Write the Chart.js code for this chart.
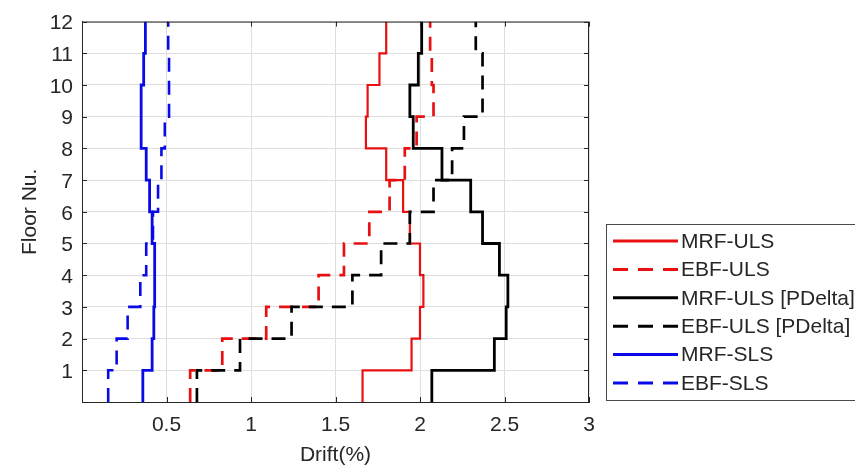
<!DOCTYPE html>
<html lang="en">
<head>
  <meta charset="UTF-8">
  <title>Storey drift</title>
  <script src="https://cdn.jsdelivr.net/npm/chart.js"></script>
  <style>
    html,body{margin:0;padding:0;background:#ffffff;overflow:hidden;}
    #wrap{width:855px;height:469px;}
  </style>
</head>
<body>
  <div id="wrap"><canvas id="driftChart" width="855" height="469"></canvas></div>
  <script>
    // floor numbers and drift (%) per storey
    const floors = [1, 2, 3, 4, 5, 6, 7, 8, 9, 10, 11, 12];
    const mrfUls   = [1.66, 1.95, 2.00, 2.02, 2.00, 1.94, 1.90, 1.80, 1.68, 1.69, 1.76, 1.80];
    const ebfUls   = [0.64, 0.83, 1.09, 1.40, 1.55, 1.70, 1.82, 1.91, 1.98, 2.08, 2.07, 2.06];
    const mrfUlsPD = [2.07, 2.44, 2.51, 2.52, 2.47, 2.37, 2.30, 2.13, 1.96, 1.94, 1.99, 2.01];
    const ebfUlsPD = [0.68, 0.935, 1.24, 1.60, 1.77, 1.94, 2.08, 2.19, 2.26, 2.37, 2.37, 2.33];
    const mrfSls   = [0.36, 0.415, 0.425, 0.43, 0.43, 0.415, 0.40, 0.38, 0.35, 0.35, 0.365, 0.375];
    const ebfSls   = [0.155, 0.205, 0.27, 0.345, 0.38, 0.42, 0.45, 0.47, 0.49, 0.515, 0.515, 0.51];
    const seriesLabels = ['MRF-ULS', 'EBF-ULS', 'MRF-ULS [PDelta]', 'EBF-ULS [PDelta]', 'MRF-SLS', 'EBF-SLS'];

    const RED = '#e81010', BLACK = '#000000', BLUE = '#0a0ae6';
    const DASH = [14, 9];
    const FONT = "'Liberation Sans', Arial, sans-serif";
    const TXT = '#262626';

    // stairs: each storey is a vertical run from floor-1 up to floor
    function stairs(vals){
      const pts = vals.map(function(v, i){ return {x: v, y: floors[i] - 1}; });
      pts.push({x: vals[vals.length - 1], y: floors[floors.length - 1]});
      return pts;
    }

    const series = [
      {data: mrfUls,   color: RED,   dash: [],   width: 2.2},
      {data: ebfUls,   color: RED,   dash: DASH, width: 2.7},
      {data: mrfUlsPD, color: BLACK, dash: [],   width: 2.8},
      {data: ebfUlsPD, color: BLACK, dash: DASH, width: 2.7},
      {data: mrfSls,   color: BLUE,  dash: [],   width: 2.8},
      {data: ebfSls,   color: BLUE,  dash: DASH, width: 2.6}
    ];

    const datasets = series.map(function(s, i){
      return {
        label: seriesLabels[i],
        data: stairs(s.data),
        borderColor: s.color,
        backgroundColor: s.color,
        borderWidth: s.width,
        borderDash: s.dash,
        stepped: 'after',
        pointRadius: 0,
        fill: false,
        order: 10 - i
      };
    });

    // box frame + inward ticks like matlab
    const frame = {
      id: 'frame',
      afterDatasetsDraw(chart){
        const a = chart.chartArea, ctx = chart.ctx;
        const xs = chart.scales.x, ys = chart.scales.y;
        ctx.save();
        ctx.strokeStyle = TXT;
        ctx.lineWidth = 1;
        ctx.strokeRect(a.left + 0.5, a.top + 0.5, a.right - a.left - 1, a.bottom - a.top);
        ctx.beginPath();
        xs.ticks.forEach(function(t){
          const p = Math.round(xs.getPixelForValue(t.value)) + 0.5;
          ctx.moveTo(p, a.bottom); ctx.lineTo(p, a.bottom - 5);
          ctx.moveTo(p, a.top); ctx.lineTo(p, a.top + 5);
        });
        ys.ticks.forEach(function(t){
          const p = Math.round(ys.getPixelForValue(t.value)) + 0.5;
          ctx.moveTo(a.left, p); ctx.lineTo(a.left + 5, p);
          ctx.moveTo(a.right, p); ctx.lineTo(a.right - 5, p);
        });
        ctx.stroke();
        ctx.restore();
      }
    };

    // legend box sitting right of the axes, partly off the page
    const boxLegend = {
      id: 'boxLegend',
      afterDraw(chart){
        const ctx = chart.ctx;
        const x0 = 606, y0 = 224, rowH = 28.4, firstY = 241;
        ctx.save();
        ctx.fillStyle = '#ffffff';
        ctx.fillRect(x0, y0, 300, 176);
        ctx.strokeStyle = '#4a4a4a';
        ctx.lineWidth = 1;
        ctx.strokeRect(x0 + 0.5, y0 + 0.5, 300, 176);
        chart.data.datasets.forEach(function(ds, i){
          const y = firstY + i * rowH;
          ctx.beginPath();
          ctx.strokeStyle = ds.borderColor;
          ctx.lineWidth = 3;
          ctx.setLineDash(ds.borderDash.length ? [15, 10] : []);
          ctx.moveTo(613, y); ctx.lineTo(678, y);
          ctx.stroke();
          ctx.setLineDash([]);
          ctx.fillStyle = TXT;
          ctx.font = '21px ' + FONT;
          ctx.textBaseline = 'middle';
          ctx.textAlign = 'left';
          ctx.fillText(ds.label, 681, y + 1);
        });
        ctx.restore();
      }
    };

    new Chart(document.getElementById('driftChart'), {
      type: 'line',
      data: {datasets: datasets},
      options: {
        responsive: false,
        devicePixelRatio: 1,
        animation: false,
        layout: {padding: {top: 16, right: 266, bottom: 0, left: 0}},
        plugins: {legend: {display: false}, tooltip: {enabled: false}},
        scales: {
          x: {
            type: 'linear',
            min: 0, max: 3,
            afterFit: function(s){ s.height = 67; },
            ticks: {
              stepSize: 0.5,
              padding: 11,
              color: TXT,
              font: {family: FONT, size: 21},
              maxRotation: 0,
              callback: function(v){ return v === 0 ? '' : String(v); }
            },
            grid: {color: '#dedede', drawTicks: false},
            border: {display: true, color: TXT},
            title: {display: true, text: 'Drift(%)', color: TXT, font: {family: FONT, size: 21}, padding: {top: 0, bottom: 1}}
          },
          y: {
            type: 'linear',
            min: 0, max: 12,
            afterFit: function(s){ s.width = 82; },
            ticks: {
              stepSize: 1,
              padding: 9,
              labelOffset: 2,
              color: TXT,
              font: {family: FONT, size: 21},
              callback: function(v){ return v === 0 ? '' : String(v); }
            },
            grid: {color: '#dedede', drawTicks: false},
            border: {display: true, color: TXT},
            title: {display: true, text: 'Floor Nu.', color: TXT, font: {family: FONT, size: 21}, padding: {top: 18, bottom: 0}}
          }
        }
      },
      plugins: [frame, boxLegend]
    });
  </script>
</body>
</html>
